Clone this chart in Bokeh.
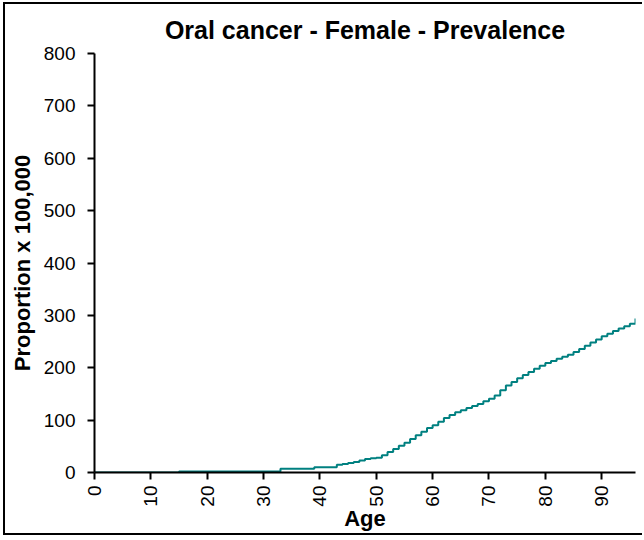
from bokeh.plotting import figure
from bokeh.models import Range1d, FixedTicker
from bokeh.embed import file_html
from bokeh.resources import INLINE

ages = list(range(0, 97))
prevalence = ([0] * 15 + [2] * 18 + [7] * 6 + [10] * 4 +
              [15, 16, 18, 20, 23, 26, 27, 28, 33, 39, 45, 51, 57, 64, 71, 78, 85,
               90, 97, 104, 110, 115, 119, 123, 127, 131, 136, 141, 147, 157, 166,
               173, 180, 186, 192, 198, 204, 209, 213, 217, 221, 225, 230, 236, 242,
               248, 254, 260, 265, 270, 275, 279, 284, 294])
x_ticks = [0, 10, 20, 30, 40, 50, 60, 70, 80, 90]
y_ticks = [0, 100, 200, 300, 400, 500, 600, 700, 800]

title_text = "Oral cancer - Female - Prevalence"
x_label = "Age"
y_label = "Proportion x 100,000"

FONT = "Liberation Sans"

p = figure(width=639, height=533, output_backend="svg", toolbar_location=None,
           x_range=Range1d(0, 96), y_range=Range1d(0, 800),
           min_border_left=89, min_border_top=48, min_border_right=9,
           min_border_bottom=65,
           styles={"margin-left": "3px", "margin-top": "2px",
                   "border-left": "2px solid black",
                   "border-top": "2px solid black",
                   "border-bottom": "2px solid black"})

p.step(ages, prevalence, mode="after", line_color="#008080", line_width=2)

p.title.text = title_text
p.title.align = "center"
p.title.text_font = FONT
p.title.text_font_size = "25px"
p.title.text_font_style = "bold"
p.title.text_color = "black"
p.title.offset = -10
p.title.standoff = 19

p.xgrid.visible = False
p.ygrid.visible = False
p.outline_line_color = None

for ax in (p.xaxis[0], p.yaxis[0]):
    ax.axis_line_color = "black"
    ax.axis_line_width = 2
    ax.major_tick_line_color = "black"
    ax.major_tick_line_width = 2
    ax.major_tick_in = 0
    ax.major_tick_out = 7
    ax.minor_tick_line_color = None
    ax.major_label_text_font = FONT
    ax.major_label_text_font_size = "19px"
    ax.major_label_text_color = "black"
    ax.axis_label_text_font = FONT
    ax.axis_label_text_font_size = "22px"
    ax.axis_label_text_font_style = "bold"
    ax.axis_label_text_color = "black"

p.xaxis.ticker = FixedTicker(ticks=x_ticks)
p.yaxis.ticker = FixedTicker(ticks=y_ticks)
p.xaxis.major_label_orientation = 1.5708
p.xaxis.major_label_standoff = 6
p.yaxis.major_label_standoff = 12
p.xaxis.axis_label = x_label
p.yaxis.axis_label = y_label
p.xaxis.axis_label_standoff = -4
p.yaxis.axis_label_standoff = 6

open("out.html", "w").write(file_html(p, INLINE))
